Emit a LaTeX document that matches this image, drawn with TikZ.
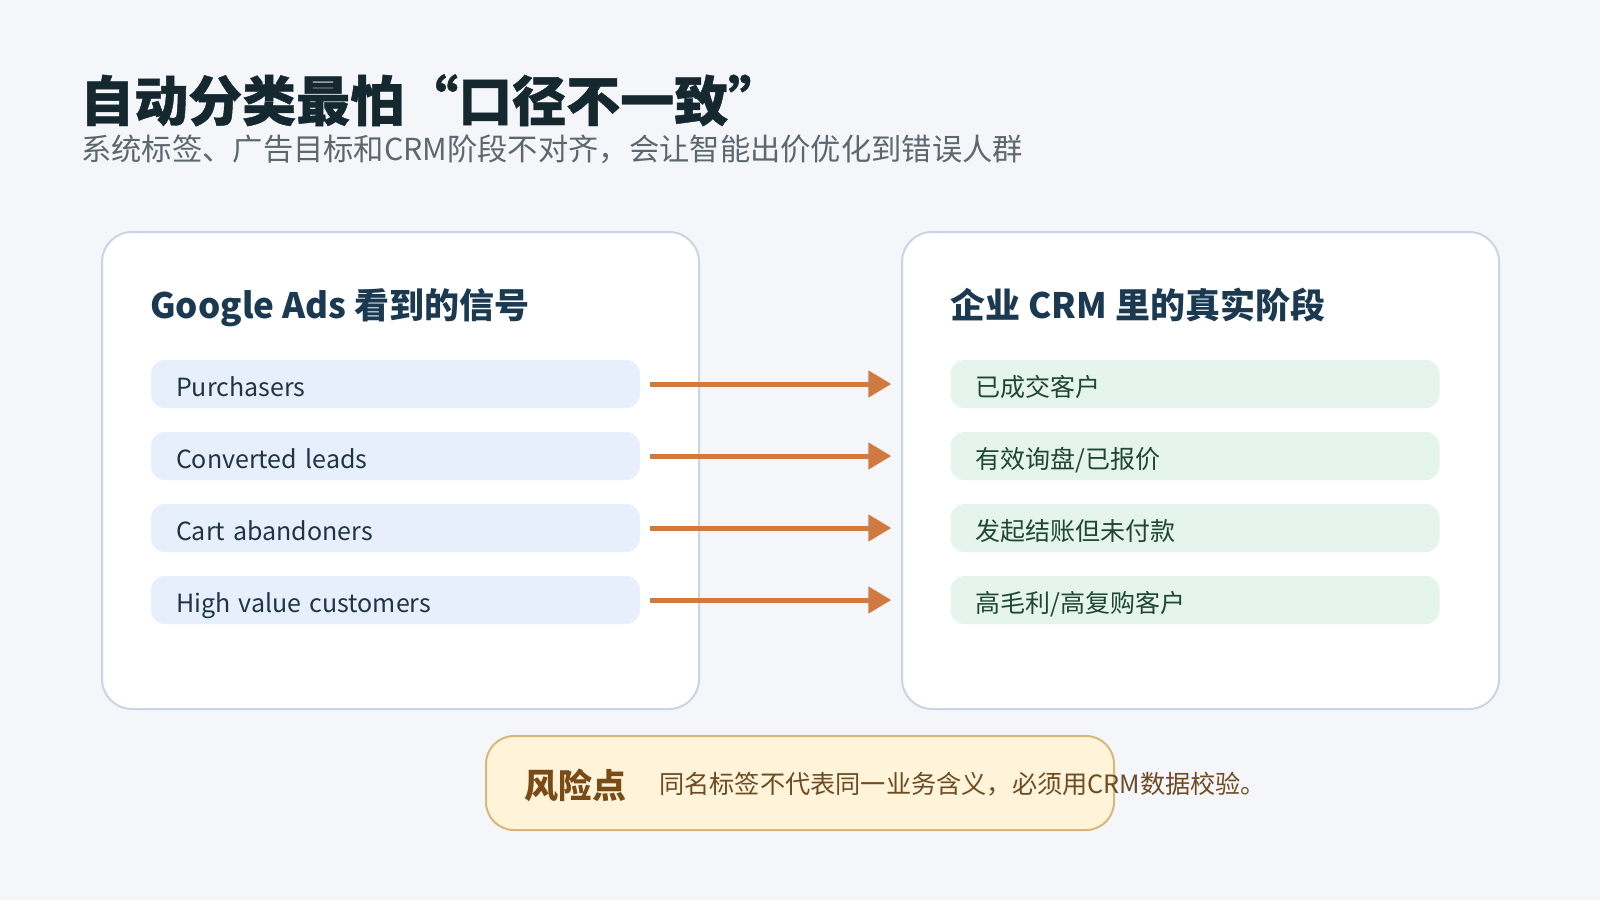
\documentclass[tikz,border=0pt]{standalone}
\usepackage{fontspec}
\setmainfont{Noto Sans CJK SC}
\newfontfamily\titlefont[FakeBold=0.8]{Noto Sans CJK SC}
\usetikzlibrary{arrows.meta}
\definecolor{bg}{HTML}{F4F6FA}
\definecolor{titlec}{HTML}{16282F}
\definecolor{subc}{HTML}{5C686E}
\definecolor{panelborder}{HTML}{C9D5E5}
\definecolor{headc}{HTML}{1B3A52}
\definecolor{blueitem}{HTML}{E6EFFB}
\definecolor{bluetext}{HTML}{1F3447}
\definecolor{greenitem}{HTML}{E5F4EC}
\definecolor{greentext}{HTML}{1F4636}
\definecolor{arrowc}{HTML}{CF7A40}
\definecolor{riskfill}{HTML}{FFF4D9}
\definecolor{riskborder}{HTML}{D8B878}
\definecolor{riskhead}{HTML}{7A4A17}
\definecolor{risktext}{HTML}{6E4B22}
\tikzset{
  panel/.style={draw=panelborder, line width=2pt, fill=white, rounded corners=30pt,
    minimum width=597pt, minimum height=477pt, inner sep=0pt},
  heading/.style={font=\fontsize{35}{42}\selectfont\bfseries, text=headc, anchor=base west, inner sep=0pt},
  itembase/.style={rounded corners=14pt, minimum width=489pt, minimum height=48pt,
    text width=439pt, inner xsep=25pt, inner ysep=0pt, align=left, text height=25pt, text depth=0pt,
    font=\fontsize{25}{30}\selectfont},
  leftitem/.style={itembase, fill=blueitem, text=bluetext},
  rightitem/.style={itembase, fill=greenitem, text=greentext},
  conn/.style={draw=arrowc, line width=5pt, -{Triangle[length=23pt,width=26pt]},
    shorten <=10pt, shorten >=59pt},
}
\begin{document}
\begin{tikzpicture}[x=1pt,y=-1pt]
\path[use as bounding box, fill=bg] (0,0) rectangle (1600,900);
% title
\node[anchor=base west, inner sep=0pt, text=titlec, font=\titlefont\fontsize{54}{60}\selectfont\bfseries] (title) at (80,121) {自动分类最怕“口径不一致”};
\node[anchor=base west, inner sep=0pt, text=subc, font=\fontsize{30.3}{36}\selectfont] (subtitle) at (81,160) {系统标签、广告目标和CRM阶段不对齐，会让智能出价优化到错误人群};
% panels
\node[panel] (lpanel) at (400.5,470.5) {};
\node[panel] (rpanel) at (1200.5,470.5) {};
\node[heading] (lhead) at (150,318) {Google Ads 看到的信号};
\node[heading] (rhead) at (950,318) {企业 CRM 里的真实阶段};
% items
\node[leftitem] (l1) at (395.5,384) {Purchasers};
\node[leftitem] (l2) at (395.5,456) {Converted leads};
\node[leftitem] (l3) at (395.5,528) {Cart abandoners};
\node[leftitem] (l4) at (395.5,600) {High value customers};
\node[rightitem] (r1) at (1195,384) {已成交客户};
\node[rightitem] (r2) at (1195,456) {有效询盘/已报价};
\node[rightitem] (r3) at (1195,528) {发起结账但未付款};
\node[rightitem] (r4) at (1195,600) {高毛利/高复购客户};
% connectors
\draw[conn] (l1.east) -- (r1.west);
\draw[conn] (l2.east) -- (r2.west);
\draw[conn] (l3.east) -- (r3.west);
\draw[conn] (l4.east) -- (r4.west);
% risk box
\node[draw=riskborder, line width=2pt, fill=riskfill, rounded corners=28pt, minimum width=628pt, minimum height=94pt, inner sep=0pt] (risk) at (800,783) {};
\node[anchor=base west, inner sep=0pt, text=riskhead, font=\fontsize{34}{40}\selectfont\bfseries] (riskhead) at (524,798) {风险点};
\node[anchor=base west, inner sep=0pt, text=risktext, font=\fontsize{25.2}{30}\selectfont] (risktext) at (659,793) {同名标签不代表同一业务含义，必须用CRM数据校验。};
\end{tikzpicture}
\end{document}
